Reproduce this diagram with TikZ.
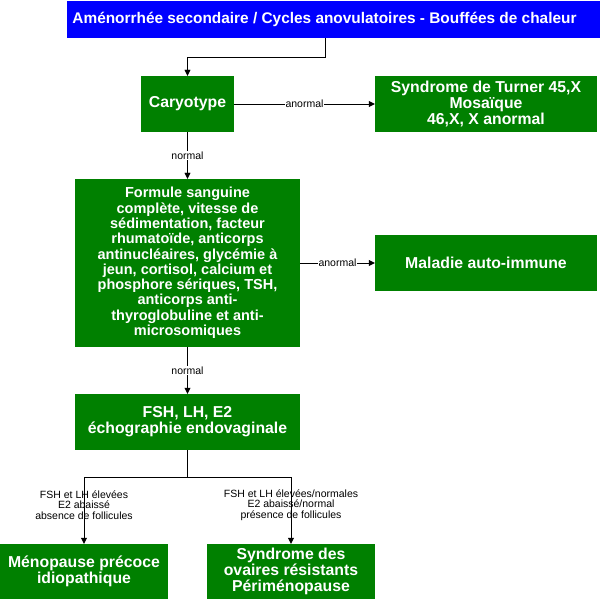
\documentclass[tikz,border=0pt]{standalone}
\usepackage{fontspec}
\setmainfont{Liberation Sans}
\usetikzlibrary{arrows.meta}
\definecolor{boxgreen}{RGB}{0,128,0}
\definecolor{boxblue}{RGB}{0,0,255}

\begin{document}
\begin{tikzpicture}[x=1pt,y=-1pt,
	box/.style={ fill=boxgreen, text=white, inner sep=0pt, align=center, font=\bfseries\fontsize{15.8}{16}\selectfont },
	boxs/.style={ box, font=\bfseries\fontsize{14.5}{15.3}\selectfont },
	boxb/.style={ box, fill=boxblue, font=\bfseries\fontsize{15.4}{16}\selectfont },
	lbl/.style={ fill=white, inner sep=1pt, font=\fontsize{10.5}{11}\selectfont },
	lblb/.style={ inner sep=0pt, align=center, font=\fontsize{10.5}{10.7}\selectfont },
	arr/.style={ -{Triangle[width=6pt,length=6pt]}, thin }
]
\useasboundingbox (0,0) rectangle (601,601);

\node[boxb, minimum width=533pt, minimum height=37pt] at (333.5,19.5) (top) {\hspace*{-18pt}Aménorrhée secondaire / Cycles anovulatoires - Bouffées de chaleur};
\node[box, minimum width=93pt, minimum height=56pt] at (187.5,104) (car) {Caryotype};
\node[box, minimum width=222pt, minimum height=56pt] at (486,104) (turner) {Syndrome de Turner 45,X\\Mosaïque\\46,X, X anormal};
\node[boxs, minimum width=225pt, minimum height=168pt] at (187.5,263) (form) {Formule sanguine\\complète, vitesse de\\sédimentation, facteur\\rhumatoïde, anticorps\\antinucléaires, glycémie à\\jeun, cortisol, calcium et\\phosphore sériques, TSH,\\anticorps anti-\\thyroglobuline et anti-\\microsomiques};
\node[box, minimum width=222pt, minimum height=56pt] at (486,263) (auto) {Maladie auto-immune};
\node[box, minimum width=225pt, minimum height=56pt] at (187.5,422) (fsh) {FSH, LH, E2\\échographie endovaginale};
\node[box, minimum width=168pt, minimum height=55pt] at (84,571.5) (meno) {Ménopause précoce\\idiopathique};
\node[box, minimum width=168pt, minimum height=55pt] at (291,571.5) (ovaires) {Syndrome des\\ovaires résistants\\Périménopause};
\coordinate (split) at (187.5,477);

\draw[arr] ([xshift=-8.5pt]top.south) -- ++(0,19) -| (car.north);
\draw[arr] (car) -- node[lbl] {anormal} (turner);
\draw[arr] (car) -- node[lbl] {normal} (form);
\draw[arr] (form) -- node[lbl] {anormal} (auto);
\draw[arr] (form) -- node[lbl] {normal} (fsh);
\draw (fsh.south) -- (split);
\draw[arr] (split) -| node[lblb, pos=0.71] {FSH et LH élevées\\E2 abaissé\\absence de follicules} (meno.north);
\draw[arr] (split) -| node[lblb, pos=0.71] {FSH et LH élevées/normales\\E2 abaissé/normal\\présence de follicules} (ovaires.north);

\end{tikzpicture}
\end{document}
